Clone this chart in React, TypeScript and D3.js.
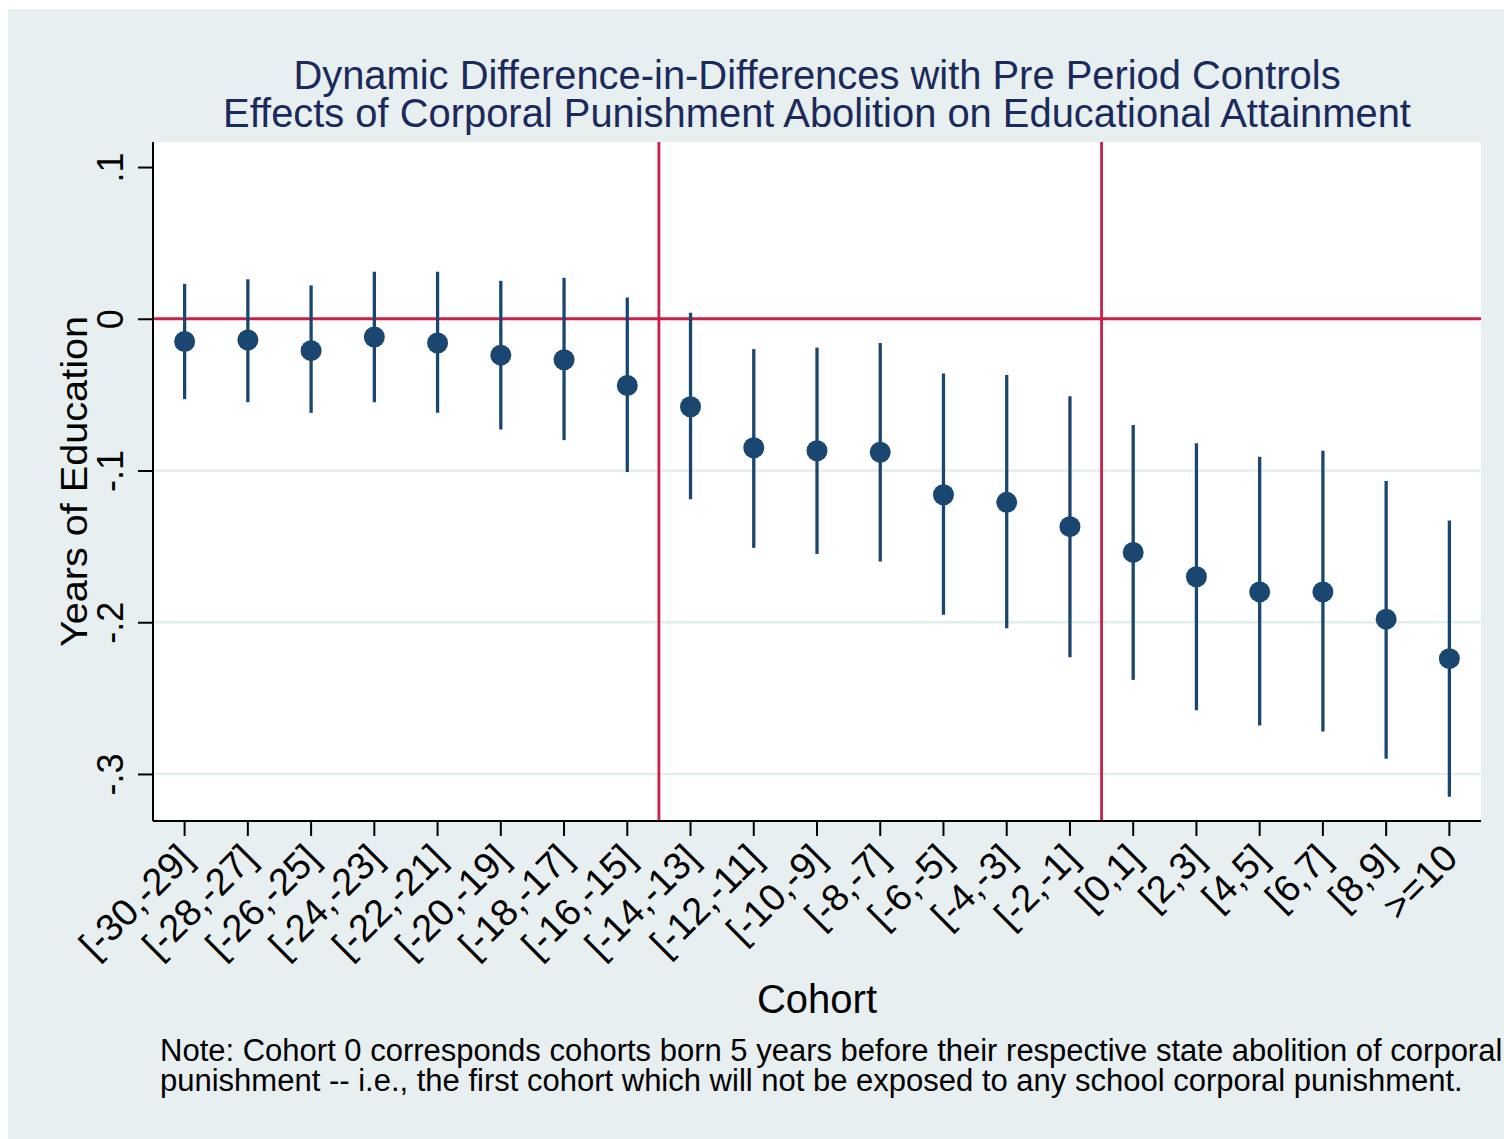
import { useEffect, useRef } from "react";
import * as d3 from "d3";

/** ---- Data ---- **/
const cohorts = [
  "[-30,-29]", "[-28,-27]", "[-26,-25]", "[-24,-23]", "[-22,-21]", "[-20,-19]",
  "[-18,-17]", "[-16,-15]", "[-14,-13]", "[-12,-11]", "[-10,-9]", "[-8,-7]",
  "[-6,-5]", "[-4,-3]", "[-2,-1]", "[0,1]", "[2,3]", "[4,5]", "[6,7]", "[8,9]", ">=10",
];
const estimates = [
  -0.015, -0.014, -0.021, -0.012, -0.016, -0.024, -0.027, -0.044, -0.058, -0.085, -0.087,
  -0.088, -0.116, -0.121, -0.137, -0.154, -0.170, -0.180, -0.180, -0.198, -0.224,
];
const ciHigh = [
  0.023, 0.026, 0.022, 0.031, 0.031, 0.025, 0.027, 0.014, 0.004, -0.020, -0.019,
  -0.016, -0.036, -0.037, -0.051, -0.070, -0.082, -0.091, -0.087, -0.107, -0.133,
];
const ciLow = [
  -0.053, -0.055, -0.062, -0.055, -0.062, -0.073, -0.080, -0.101, -0.119, -0.151, -0.155,
  -0.160, -0.195, -0.204, -0.223, -0.238, -0.258, -0.268, -0.272, -0.290, -0.315,
];
const yTicks = [0.1, 0, -0.1, -0.2, -0.3];
const yTickLabels = [".1", "0", "-.1", "-.2", "-.3"];
const gridTicks = [-0.1, -0.2, -0.3];
// vertical reference lines sit at the left edge of these cohorts
const refCohorts = ["[-14,-13]", "[0,1]"];

const titleLines = [
  "Dynamic Difference-in-Differences with Pre Period Controls",
  "Effects of Corporal Punishment Abolition on Educational Attainment",
];
const noteLines = [
  "Note: Cohort 0 corresponds cohorts born 5 years before their respective state abolition of corporal",
  "punishment -- i.e., the first cohort which will not be exposed to any school corporal punishment.",
];

const FONT = "'Liberation Sans', Arial, Helvetica, sans-serif";
const NAVY = "#1a476f";
const RED = "#cc1f48";
const BG = "#e8eff1";
const GRID = "#e4edef";

export default function App() {
  const svgRef = useRef<SVGSVGElement>(null);

  useEffect(() => {
    const W = 1504, H = 1139;
    const svg = d3.select(svgRef.current);
    svg.selectAll("*").remove();

    // plot region
    const left = 153, right = 1481, top = 142, bottom = 821;

    svg.append("rect").attr("width", W).attr("height", H).attr("fill", "#fff");
    svg.append("rect").attr("x", 8).attr("y", 9).attr("width", W - 8).attr("height", H - 9).attr("fill", BG);
    svg.append("rect").attr("x", left).attr("y", top)
      .attr("width", right - left).attr("height", bottom - top).attr("fill", "#fff");

    const x = d3.scaleBand<string>().domain(cohorts).range([left, right]).padding(0);
    const cx = (c: string) => (x(c) as number) + x.bandwidth() / 2;
    const y = d3.scaleLinear().domain([-0.331, 0.1165]).range([bottom, top]);

    // gridlines
    svg.append("g").selectAll("line").data(gridTicks).join("line")
      .attr("x1", left).attr("x2", right)
      .attr("y1", d => y(d)).attr("y2", d => y(d))
      .attr("stroke", GRID).attr("stroke-width", 2.5);

    // reference lines
    svg.append("line")
      .attr("x1", left).attr("x2", right).attr("y1", y(0)).attr("y2", y(0))
      .attr("stroke", RED).attr("stroke-width", 2.8);
    svg.append("g").selectAll("line").data(refCohorts).join("line")
      .attr("x1", d => x(d) as number).attr("x2", d => x(d) as number)
      .attr("y1", top).attr("y2", bottom)
      .attr("stroke", RED).attr("stroke-width", 2.8);

    // confidence intervals + point estimates
    const pts = cohorts.map((c, i) => ({ c, est: estimates[i], lo: ciLow[i], hi: ciHigh[i] }));
    svg.append("g").selectAll("line").data(pts).join("line")
      .attr("x1", d => cx(d.c)).attr("x2", d => cx(d.c))
      .attr("y1", d => y(d.hi)).attr("y2", d => y(d.lo))
      .attr("stroke", NAVY).attr("stroke-width", 3.3);
    svg.append("g").selectAll("circle").data(pts).join("circle")
      .attr("cx", d => cx(d.c)).attr("cy", d => y(d.est))
      .attr("r", 10.5).attr("fill", NAVY);

    // y axis
    const yAxis = d3.axisLeft(y).tickValues(yTicks).tickSize(15).tickPadding(0)
      .tickFormat((_d, i) => yTickLabels[i]);
    const ya = svg.append("g").attr("transform", `translate(${left},0)`).call(yAxis);
    ya.select(".domain").attr("stroke", "#000").attr("stroke-width", 2)
      .attr("d", `M0,${top}V${bottom}`);
    ya.selectAll(".tick line").attr("stroke", "#000").attr("stroke-width", 2);
    ya.selectAll(".tick text")
      .attr("x", null).attr("dy", null)
      .attr("transform", "translate(-30,0) rotate(-90)")
      .attr("text-anchor", "middle")
      .attr("fill", "#000")
      .style("font-family", FONT).style("font-size", "36px");

    // x axis
    const xAxis = d3.axisBottom(x).tickSize(15).tickPadding(0);
    const xa = svg.append("g").attr("transform", `translate(0,${bottom})`).call(xAxis);
    xa.select(".domain").attr("stroke", "#000").attr("stroke-width", 2)
      .attr("d", `M${left},0H${right}`);
    xa.selectAll(".tick line").attr("stroke", "#000").attr("stroke-width", 2);
    xa.selectAll(".tick text")
      .attr("y", null).attr("dy", null)
      .attr("transform", "translate(1,30) rotate(-45)")
      .attr("dy", "0.35em")
      .attr("text-anchor", "end")
      .attr("fill", "#000")
      .style("font-family", FONT).style("font-size", "38px");

    // titles
    const cxPlot = (left + right) / 2;
    svg.append("g").selectAll("text").data(titleLines).join("text")
      .attr("x", cxPlot).attr("y", (_d, i) => 88.5 + i * 38.5)
      .attr("text-anchor", "middle").attr("fill", "#1b2a5c")
      .style("font-family", FONT).style("font-size", "39.9px")
      .text(d => d);

    svg.append("text")
      .attr("transform", `translate(87,${(top + bottom) / 2}) rotate(-90)`)
      .attr("text-anchor", "middle").attr("fill", "#000")
      .attr("textLength", 331).attr("lengthAdjust", "spacingAndGlyphs")
      .style("font-family", FONT).style("font-size", "36px")
      .text("Years of Education");

    svg.append("text")
      .attr("x", cxPlot).attr("y", 1013)
      .attr("text-anchor", "middle").attr("fill", "#000")
      .style("font-family", FONT).style("font-size", "40px")
      .text("Cohort");

    svg.append("g").selectAll("text").data(noteLines).join("text")
      .attr("x", 160).attr("y", (_d, i) => 1061 + i * 30)
      .attr("fill", "#000")
      .style("font-family", FONT).style("font-size", "31px")
      .text(d => d);
  }, []);

  return (
    <svg
      ref={svgRef}
      width={1504}
      height={1139}
      style={{ position: "absolute", left: 0, top: 0, display: "block" }}
    />
  );
}
